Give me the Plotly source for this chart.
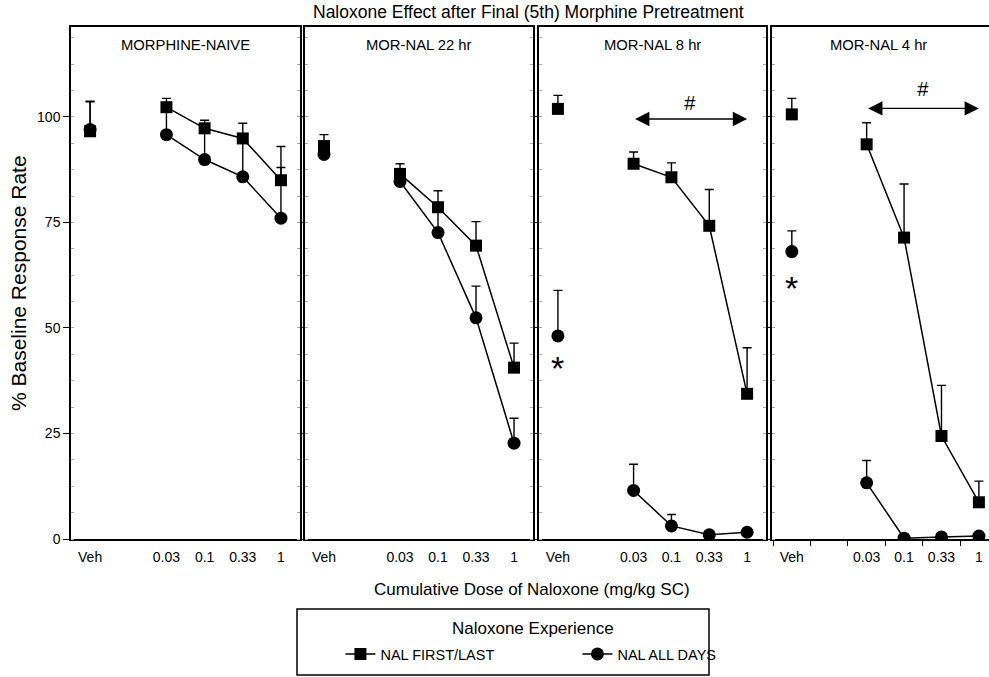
import plotly.graph_objects as go

# ---------------- data ----------------
panel_titles = ["MORPHINE-NAIVE", "MOR-NAL 22 hr", "MOR-NAL 8 hr", "MOR-NAL 4 hr"]
categories = ["Veh", " ", "0.03", "0.1", "0.33", "1"]
veh_label = "Veh"
dose_labels = ["0.03", "0.1", "0.33", "1"]

# NAL FIRST/LAST (squares): vehicle mean, dose means, upper SEM
sq_veh = [96.6, 93.1, 101.9, 100.6]
sq_veh_sem = [7.0, 2.7, 3.2, 3.8]
sq_dose = [
    [102.3, 97.3, 94.9, 85.0],
    [86.5, 78.6, 69.5, 40.6],
    [88.9, 85.7, 74.2, 34.4],
    [93.5, 71.4, 24.4, 8.7],
]
sq_dose_sem = [
    [2.1, 1.9, 3.6, 8.0],
    [2.4, 3.9, 5.7, 5.8],
    [2.8, 3.4, 8.6, 10.9],
    [5.1, 12.7, 12.0, 5.0],
]

# NAL ALL DAYS (circles)
ci_veh = [97.0, 91.1, 48.1, 68.1]
ci_veh_sem = [6.7, 1.5, 10.8, 4.9]
ci_dose = [
    [95.8, 89.9, 85.8, 76.0],
    [84.7, 72.6, 52.4, 22.7],
    [11.5, 3.1, 1.0, 1.6],
    [13.3, 0.2, 0.5, 0.7],
]
ci_dose_sem = [
    [5.5, 7.0, 9.0, 12.0],
    [1.5, 6.0, 7.5, 5.9],
    [6.2, 2.7, 0.0, 0.0],
    [5.3, 0.0, 0.0, 0.0],
]

asterisk_y = [None, None, 40.5, 59.5]
arrow_y = [None, None, 99.5, 102.0]
hash_y = [None, None, 103.3, 106.5]

# ---------------- layout helpers ----------------
FONT = "Liberation Sans, Arial, Helvetica, sans-serif"
domains = [[0.0, 0.2495], [0.2549, 0.5033], [0.5098, 0.7571], [0.7636, 1.0]]
xranges = [[-0.5, 5.5], [-0.5, 5.5], [-0.5, 5.5], [-0.53, 5.27]]

fig = go.Figure()


def err(sem):
    return dict(type="data", symmetric=False, array=sem, arrayminus=[0] * len(sem),
                color="black", thickness=1.4, width=4.5)


for i in range(4):
    xa = "x" if i == 0 else f"x{i+1}"
    ya = "y" if i == 0 else f"y{i+1}"
    # circles
    fig.add_trace(go.Scatter(x=[veh_label], y=[ci_veh[i]], xaxis=xa, yaxis=ya,
                             mode="markers", marker=dict(symbol="circle", size=13, color="black"),
                             error_y=err([ci_veh_sem[i]]), showlegend=False, hoverinfo="skip"))
    fig.add_trace(go.Scatter(x=dose_labels, y=ci_dose[i], xaxis=xa, yaxis=ya,
                             mode="lines+markers", name="NAL ALL DAYS",
                             line=dict(color="black", width=1.5),
                             marker=dict(symbol="circle", size=13, color="black"),
                             error_y=err(ci_dose_sem[i]), showlegend=(i == 0), legendrank=2))
    # squares
    fig.add_trace(go.Scatter(x=[veh_label], y=[sq_veh[i]], xaxis=xa, yaxis=ya,
                             mode="markers", marker=dict(symbol="square", size=12, color="black"),
                             error_y=err([sq_veh_sem[i]]), showlegend=False, hoverinfo="skip"))
    fig.add_trace(go.Scatter(x=dose_labels, y=sq_dose[i], xaxis=xa, yaxis=ya,
                             mode="lines+markers", name="NAL FIRST/LAST",
                             line=dict(color="black", width=1.5),
                             marker=dict(symbol="square", size=12, color="black"),
                             error_y=err(sq_dose_sem[i]), showlegend=(i == 0), legendrank=1))

layout = dict(
    width=989, height=677,
    margin=dict(l=71, r=0, t=27, b=138),
    paper_bgcolor="white", plot_bgcolor="white",
    font=dict(family=FONT, color="black", size=12),
    showlegend=True,
    legend=dict(orientation="h", x=0.2935, xanchor="left", y=-0.2246, yanchor="middle",
                font=dict(size=14.5, family=FONT), entrywidth=192, traceorder="normal",
                bgcolor="rgba(0,0,0,0)", borderwidth=0),
)

for i in range(4):
    xk = "xaxis" if i == 0 else f"xaxis{i+1}"
    yk = "yaxis" if i == 0 else f"yaxis{i+1}"
    last = (i == 3)
    layout[xk] = dict(
        domain=domains[i], anchor="y" if i == 0 else f"y{i+1}",
        type="category", categoryorder="array", categoryarray=categories,
        range=xranges[i], showline=True, linecolor="black", linewidth=1.5,
        mirror=True, showgrid=False, zeroline=False,
        ticks="outside" if last else "", tickson="boundaries",
        ticklen=5 if last else 0, tickcolor="black", tickwidth=1,
        ticklabelstandoff=4,
        tickfont=dict(size=14, family=FONT),
    )
    layout[yk] = dict(
        domain=[0, 1], anchor="x" if i == 0 else f"x{i+1}",
        range=[0, 121.3], tickvals=[0, 25, 50, 75, 100],
        showticklabels=(i == 0), ticks="outside", ticklen=6 if i == 0 else 3,
        tickcolor="black", tickwidth=1,
        showline=True, linecolor="black", linewidth=1.5,
        mirror=(False if last else "ticks"), showgrid=False, zeroline=False,
        tickfont=dict(size=14, family=FONT),
        minor=dict(dtick=6.25, tick0=0, ticks="inside", ticklen=3, tickcolor="#aaaaaa", tickwidth=1),
    )

fig.update_layout(**layout)

annotations = []
# main title
annotations.append(dict(text="Naloxone Effect after Final (5th) Morphine Pretreatment",
                        xref="paper", yref="paper", x=0.498, y=1.0, yshift=15,
                        xanchor="center", yanchor="middle", showarrow=False,
                        font=dict(size=17.5, family=FONT)))
for i in range(4):
    xd = "x domain" if i == 0 else f"x{i+1} domain"
    annotations.append(dict(text=panel_titles[i], xref=xd, yref="paper",
                            x=0.5 if i < 3 else 0.49, y=0.965, xanchor="center", yanchor="middle",
                            showarrow=False, font=dict(size=14.8, family=FONT)))
    xr = "x" if i == 0 else f"x{i+1}"
    yr = "y" if i == 0 else f"y{i+1}"
    if asterisk_y[i] is not None:
        annotations.append(dict(text="*", xref=xr, yref=yr, x=veh_label, y=asterisk_y[i],
                                xanchor="center", yanchor="middle", showarrow=False,
                                font=dict(size=34, family=FONT)))
    if arrow_y[i] is not None:
        annotations.append(dict(text="", xref=xr, yref=yr,
                                x=categories.index(dose_labels[-1]), y=arrow_y[i],
                                axref=xr, ayref=yr,
                                ax=categories.index(dose_labels[0]), ay=arrow_y[i],
                                showarrow=True, arrowhead=2, arrowside="end+start",
                                arrowsize=2.2, arrowwidth=1.3, arrowcolor="black",
                                startarrowhead=2, startarrowsize=2.2))
        annotations.append(dict(text="<i>#</i>", xref=xr, yref=yr, x=3.5, y=hash_y[i],
                                xanchor="center", yanchor="middle", showarrow=False,
                                font=dict(size=20, family=FONT)))
# axis titles
annotations.append(dict(text="Cumulative Dose of Naloxone (mg/kg SC)", xref="paper", yref="paper",
                        x=0.502, y=-0.0996, xanchor="center", yanchor="middle", showarrow=False,
                        font=dict(size=17, family=FONT)))
annotations.append(dict(text="% Baseline Response Rate", xref="paper", yref="paper",
                        x=-0.0577, y=0.5, xanchor="center", yanchor="middle", showarrow=False,
                        textangle=-90, font=dict(size=21, family=FONT)))
# legend title
annotations.append(dict(text="Naloxone Experience", xref="paper", yref="paper",
                        x=0.503, y=-0.174, xanchor="center", yanchor="middle", showarrow=False,
                        font=dict(size=17, family=FONT)))

fig.update_layout(annotations=annotations)

# legend frame
fig.add_shape(type="rect", xref="paper", yref="paper", x0=0.2462, x1=0.695, y0=-0.2656, y1=-0.1367,
              line=dict(color="black", width=1.5), fillcolor="rgba(0,0,0,0)", layer="above")

fig.write_html("out.html")
